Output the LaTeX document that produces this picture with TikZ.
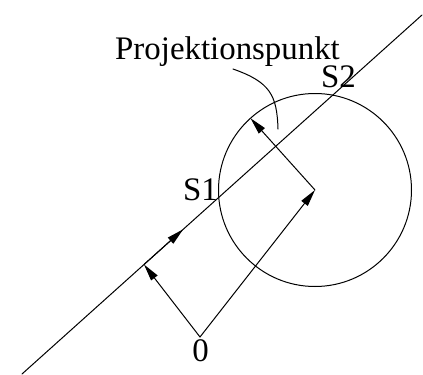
\documentclass[tikz,border=0pt]{standalone}
\usepackage{fontspec}
\setmainfont{Liberation Serif}
\usetikzlibrary{arrows.meta,calc}
\begin{document}
\begin{tikzpicture}[x=1bp,y=-1bp,
  thin line/.style={line width=1bp,line cap=round},
  vec/.style={thin line,-{Triangle[length=17bp,width=8bp]}},
  lbl/.style={inner sep=0pt,font=\fontsize{33}{33}\selectfont}]
\useasboundingbox (0,0) rectangle (423,375);
% line
\coordinate (L1) at (22,374);
\coordinate (L2) at (422,15);
\draw[thin line] (L1) -- (L2);
% circle
\coordinate (C) at (315,190);
\draw[thin line] (C) circle[radius=96.5];
% points
\coordinate (O) at (200,337);
\coordinate (F) at ($(L1)!0.305!(L2)$);
\coordinate (T) at ($(L1)!0.403!(L2)$);
\coordinate (P) at (250.5,118.2);
% vectors
\draw[vec] (O) -- (F);
\draw[vec] (F) -- (T);
\draw[vec] (O) -- (C);
\draw[vec] (C) -- (P);
% labels
\node[lbl,anchor=base west] (proj) at (115,59) {Projektionspunkt};
\node[lbl,anchor=base west] (s2) at (321,87) {S2};
\node[lbl,anchor=base west] (s1) at (183,200) {S1};
\node[lbl,anchor=base] (zero) at (200.5,361) {0};
\coordinate (cs) at (233,69);
\coordinate (ce) at (278,129);
\draw[thin line] (cs) .. controls (270,82) and (277,95) .. (ce);
\end{tikzpicture}
\end{document}
